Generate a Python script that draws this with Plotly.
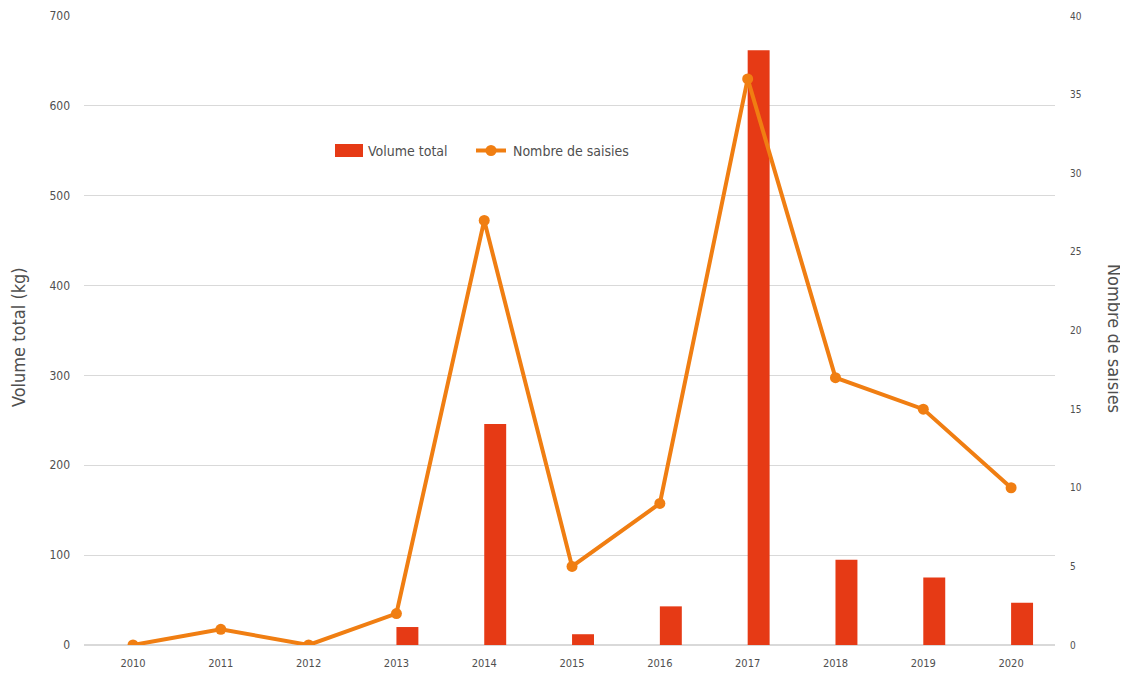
import plotly.graph_objects as go

years = ["2010", "2011", "2012", "2013", "2014", "2015", "2016", "2017", "2018", "2019", "2020"]
volume_kg = [0, 0, 0, 20, 246, 12, 43, 662, 95, 75, 47]
nb_saisies = [0, 1, 0, 2, 27, 5, 9, 36, 17, 15, 10]

FONT = "DejaVu Sans Condensed, Liberation Sans Narrow, sans-serif"
TXT = "#4f4f4f"
BAR_C = "#E63A15"
LINE_C = "#F07E12"

# page body has an 8px margin: figure is 1120x673 placed at (8, 8)
OFF = 8
W, H = 1128 - OFF, 681 - OFF
L, R, T, B = 84 - OFF, 73, 16 - OFF, 36
PW = W - L - R
PH = H - T - B

def px(x):  # page pixel -> paper
    return (x - OFF - L) / PW

def py(y):
    return (H - B - (y - OFF)) / PH

fig = go.Figure()
fig.add_trace(go.Bar(
    x=years, y=volume_kg, name="Volume total",
    marker=dict(color=BAR_C, line=dict(width=0)),
    width=0.25, offset=0, yaxis="y",
))
fig.add_trace(go.Scatter(
    x=years, y=nb_saisies, name="Nombre de saisies",
    mode="lines+markers",
    line=dict(color=LINE_C, width=4),
    marker=dict(color=LINE_C, size=11),
    yaxis="y2",
))

shapes = [
    dict(type="rect", xref="paper", yref="paper", x0=px(335), x1=px(363), y0=py(157), y1=py(144),
         fillcolor=BAR_C, line=dict(width=0)),
    dict(type="line", xref="paper", yref="paper", x0=px(476), x1=px(506), y0=py(150.5), y1=py(150.5),
         line=dict(color=LINE_C, width=4)),
    dict(type="circle", xref="paper", yref="paper", x0=px(485.5), x1=px(496.5), y0=py(156), y1=py(145),
         fillcolor=LINE_C, line=dict(width=0)),
]

annotations = [
    dict(text="Volume total", xref="paper", yref="paper", x=px(366), y=py(151),
         xanchor="left", yanchor="middle", showarrow=False,
         font=dict(family=FONT, size=14, color=TXT)),
    dict(text="Nombre de saisies", xref="paper", yref="paper", x=px(511), y=py(151),
         xanchor="left", yanchor="middle", showarrow=False,
         font=dict(family=FONT, size=14, color=TXT)),
    dict(text="Volume total (kg)", xref="paper", yref="paper", x=px(18), y=py(337),
         xanchor="center", yanchor="middle", textangle=-90, showarrow=False,
         font=dict(family=FONT, size=18, color=TXT)),
    dict(text="Nombre de saisies", xref="paper", yref="paper", x=px(1115), y=py(338),
         xanchor="center", yanchor="middle", textangle=90, showarrow=False,
         font=dict(family=FONT, size=18, color=TXT)),
]

fig.update_layout(
    width=W, height=H,
    margin=dict(l=L, r=R, t=T, b=B),
    paper_bgcolor="white", plot_bgcolor="white",
    font=dict(family=FONT, color=TXT, size=12),
    showlegend=False,
    xaxis=dict(
        type="category", showgrid=False, showline=False, ticks="", automargin=False,
        tickfont=dict(family=FONT, size=11, color=TXT),
        range=[-0.558, 10.5], ticklabelstandoff=10,
    ),
    yaxis=dict(
        range=[0, 700], dtick=100, showgrid=True, gridcolor="#d9d9d9", gridwidth=1,
        zeroline=True, zerolinecolor="#d9d9d9", zerolinewidth=2, automargin=False,
        ticks="", tickfont=dict(family=FONT, size=12, color=TXT),
        ticklabelstandoff=13,
    ),
    yaxis2=dict(
        range=[0, 40], dtick=5, overlaying="y", side="right", showgrid=False,
        zeroline=False, ticks="", automargin=False,
        tickfont=dict(family=FONT, size=10, color=TXT),
        ticklabelstandoff=14,
    ),
    shapes=shapes,
    annotations=annotations,
)

fig.write_html("out.html")
